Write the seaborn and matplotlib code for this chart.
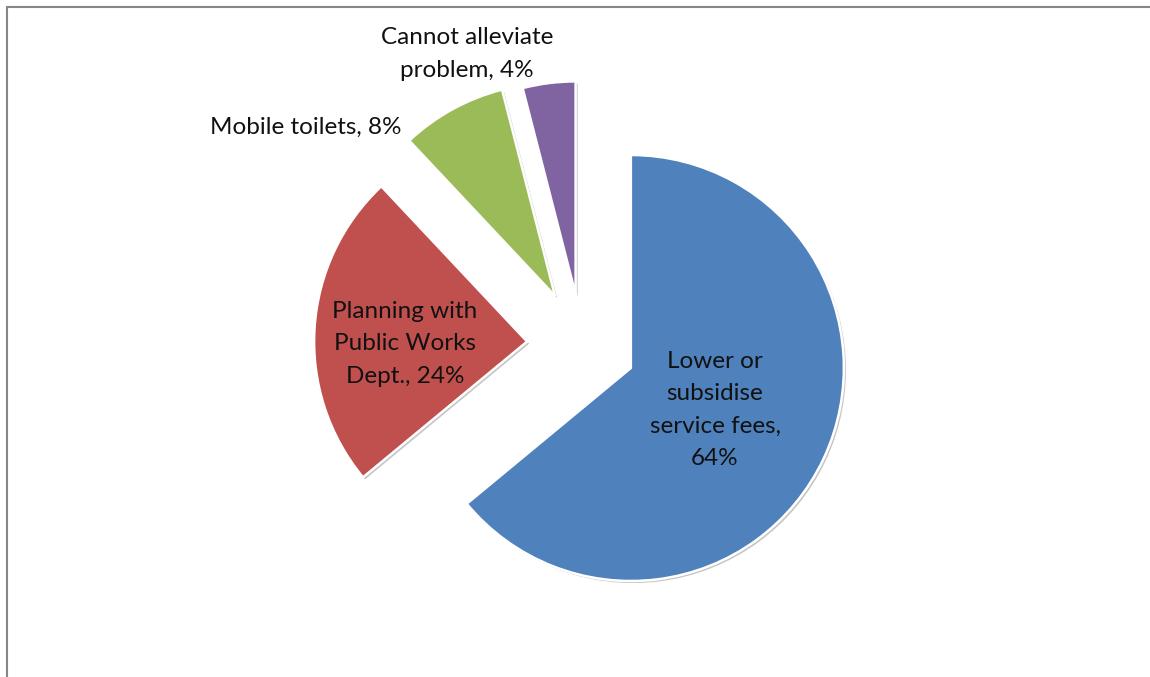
import matplotlib
matplotlib.use("Agg")
import matplotlib.pyplot as plt
import matplotlib.patheffects as pe
from matplotlib.patches import Rectangle
import seaborn as sns

# Survey responses: how to alleviate the problem
categories = [
    "Lower or\nsubsidise\nservice fees",
    "Planning with\nPublic Works\nDept.",
    "Mobile toilets",
    "Cannot alleviate\nproblem",
]
shares = [64, 24, 8, 4]
value_sep = [",\n", ", ", ", ", ", "]
colors = ["#4F81BD", "#C0504D", "#9BBB59", "#8064A2"]

sns.set_theme(style="white")
plt.rcParams["font.family"] = ["Lato", "DejaVu Sans"]

W, H = 1150, 677
fig = plt.figure(figsize=(W / 100, H / 100), dpi=100)
ax = fig.add_axes([0, 0, 1, 1])

center = (582, H - 345)
radius = 213
explode = [54, 55, 56, 51]

wedges, _ = ax.pie(
    shares,
    colors=colors,
    startangle=90,
    counterclock=False,
    explode=explode,
    center=center,
    radius=radius,
    wedgeprops=dict(edgecolor="white", linewidth=1.8),
)
for w in wedges:
    w.set_path_effects([
        pe.SimplePatchShadow(offset=(1.5, -1.5), shadow_rgbFace="#808080", alpha=0.45),
        pe.Normal(),
    ])

ax.set_xlim(0, W)
ax.set_ylim(0, H)
ax.axis("off")

labels = [f"{c}{s}{v}%" for c, s, v in zip(categories, value_sep, shares)]
label_pos = [(715, 410), (405, 344), (306, 127), (467, 54)]
for text, (x, y) in zip(labels, label_pos):
    ax.text(x, H - y, text, ha="center", va="center", fontsize=17.5,
            color="#111111", linespacing=1.66)

# outer chart frame
fig.patches.append(Rectangle((7 / W, -0.1), 1.2, (H - 7) / H + 0.1,
                             transform=fig.transFigure, fill=False,
                             edgecolor="#868686", linewidth=1.5))

fig.savefig("out.png", dpi=100, facecolor="white")
